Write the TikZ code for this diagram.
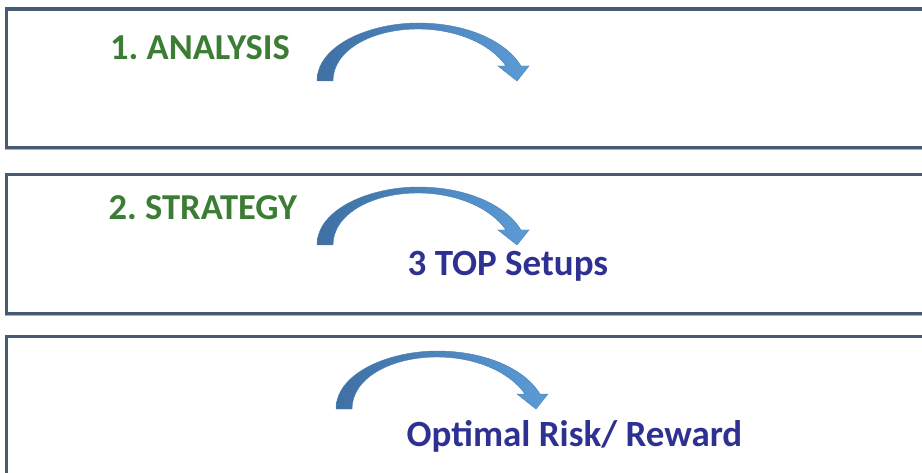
\documentclass[tikz,border=0pt]{standalone}
\usepackage{fontspec}
\setmainfont{Carlito}
\frenchspacing
\definecolor{panelline}{HTML}{475A74}
\definecolor{panelshadow}{HTML}{A9B1BD}
\definecolor{stepgreen}{HTML}{3B7D34}
\definecolor{stepnavy}{HTML}{2F3192}
\definecolor{arrowdark}{HTML}{3F70A4}
\definecolor{arrowlight}{HTML}{5B9BD5}
\definecolor{arrowedge}{HTML}{4A7EB5}
\tikzset{
  panel/.style={draw=panelline, line width=3.5pt},
  panelshade/.style={draw=panelshadow, line width=1pt},
  steptitle/.style={anchor=base west, inner sep=0pt, text=stepgreen, font=\fontsize{36.5}{40}\selectfont\bfseries},
  steptext/.style={anchor=base west, inner sep=0pt, text=stepnavy, font=\fontsize{37}{40}\selectfont\bfseries},
  bendarrow/.style={left color=arrowdark, right color=arrowlight, draw=arrowedge, line width=0.4pt}
}
\newcommand\bendarrowpath{%
  (317,81) .. controls (317,45) and (370,23) .. (418,23)
  .. controls (465,23) and (505,40) .. (521,66) -- (529,66) -- (517,81) -- (498,66) -- (506,66)
  .. controls (490,43) and (455,29) .. (418,29)
  .. controls (372,29) and (333,50) .. (333,81) -- cycle}
\begin{document}
\begin{tikzpicture}[x=1pt,y=-1pt]
\useasboundingbox (0,0) rectangle (922,473);
\clip (0,0) rectangle (922,473);
% panels
\draw[panelshade] (5,11) -- (5,149.5) -- (935,149.5);
\draw[panel] (6.5,9) rectangle (940,147.5);
\draw[panelshade] (5,176.5) -- (5,315.5) -- (935,315.5);
\draw[panel] (6.5,174.5) rectangle (940,313.5);
\draw[panelshade] (5,338.5) -- (5,480);
\draw[panel] (6.5,336.5) rectangle (940,490);
% arrows
\shade[bendarrow] \bendarrowpath;
\begin{scope}[shift={(0,164)}]
\shade[bendarrow] \bendarrowpath;
\end{scope}
\begin{scope}[shift={(19,328)}]
\shade[bendarrow] \bendarrowpath;
\end{scope}
% texts
\node[steptitle] (analysis) at (110,59.3) {1. ANALYSIS};
\node[steptitle] (strategy) at (108.5,220) {2. STRATEGY};
\node[steptext] (setups) at (407.5,276) {3 TOP Setups};
\node[steptext] (risk) at (406.5,446.7) {Optimal Risk/ Reward};
\end{tikzpicture}
\end{document}
